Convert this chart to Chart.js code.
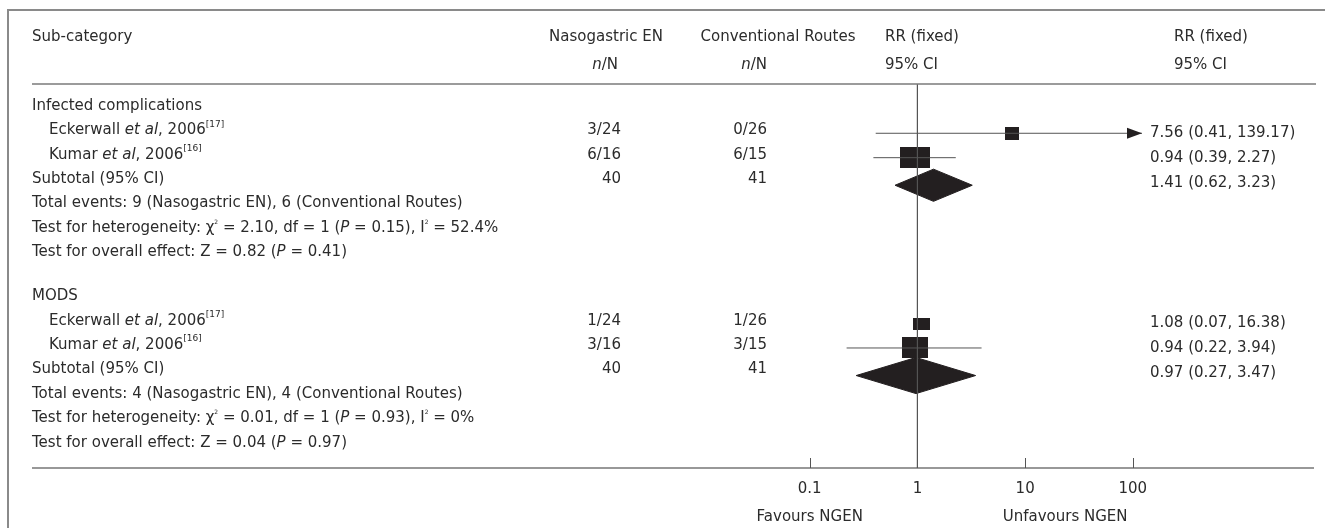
<!DOCTYPE html>
<html>
<head>
<meta charset="utf-8">
<script src="https://cdn.jsdelivr.net/npm/chart.js@4.4.1/dist/chart.umd.min.js"></script>
<style>
  html, body { margin: 0; padding: 0; background: #ffffff; }
  #wrap { width: 1325px; height: 528px; position: relative; }
</style>
</head>
<body>
<div id="wrap"><canvas id="forest" width="1325" height="528"></canvas></div>
<script>
// ---- data ----------------------------------------------------------
const groupNames = ['Infected complications', 'MODS'];
const studyGroup = [0, 0, 1, 1];
const studyNames = ['Eckerwall', 'Kumar', 'Eckerwall', 'Kumar'];
const studyYears = [2006, 2006, 2006, 2006];
const studyRefs = [17, 16, 17, 16];
const ngenEvents = [3, 6, 1, 3];
const ngenTotal = [24, 16, 24, 16];
const convEvents = [0, 6, 1, 3];
const convTotal = [26, 15, 26, 15];
const studyRR = [7.56, 0.94, 1.08, 0.94];
const studyLow = [0.41, 0.39, 0.07, 0.22];
const studyHigh = [139.17, 2.27, 16.38, 3.94];
const studyWhisker = [true, true, false, true];
const subtotalRR = [1.41, 0.97];
const subtotalLow = [0.62, 0.27];
const subtotalHigh = [3.23, 3.47];
const hetChi2 = ['2.10', '0.01'];
const hetDf = [1, 1];
const hetP = ['0.15', '0.93'];
const hetI2 = ['52.4%', '0%'];
const effectZ = ['0.82', '0.04'];
const effectP = ['0.41', '0.97'];
const axisTicks = [0.1, 1, 10, 100];
const axisLabels = ['Favours NGEN', 'Unfavours NGEN'];

// ---- styles & layout --------------------------------------------------
const FONT = '"DejaVu Sans", Verdana, sans-serif';
const FS = 15;
const TEXT = '#2b2b2b';
const INK = '#231f20';
const W = 1325, H = 528;
const X_MIN = 0.01, X_MAX = Math.pow(10, 2.085);
const Y_MIN = -0.9, Y_MAX = 14.84;
const boxSize = [[14, 13], [30, 21], [17, 12], [26, 21]];
const boxDrop = 0.12;       // marks sit slightly below the text line
const diamondDrop = 0.25;
const diamondHalf = [0.66, 0.74];
const COL = { left: 32, indent: 49, ngen: 621, conv: 767, ngenHead: 606, convHead: 778, rrHead: 885, res: 1150, resHead: 1174 };

// row positions (in row units) built from the group structure
const rows = [];
let r = 0;
groupNames.forEach((g, gi) => {
  rows.push({ kind: 'group', gi, y: r++ });
  studyGroup.forEach((sg, si) => { if (sg === gi) rows.push({ kind: 'study', si, y: r++ }); });
  rows.push({ kind: 'subtotal', gi, y: r++ });
  rows.push({ kind: 'events', gi, y: r++ });
  rows.push({ kind: 'het', gi, y: r++ });
  rows.push({ kind: 'effect', gi, y: r++ });
  r += 0.8;
});
const studyRow = si => rows.find(o => o.kind === 'study' && o.si === si).y;
const subtotalRow = gi => rows.find(o => o.kind === 'subtotal' && o.gi === gi).y;

// ---- datasets -------------------------------------------------------
function boxImage(w, h) {
  const c = document.createElement('canvas');
  c.width = w; c.height = h;
  const g = c.getContext('2d');
  g.fillStyle = INK; g.fillRect(0, 0, w, h);
  return c;
}

const datasets = [];
// line of no effect
datasets.push({
  data: [{ x: 1, y: Y_MIN }, { x: 1, y: Y_MAX }],
  showLine: true, borderColor: '#555555', borderWidth: 1, pointRadius: 0
});
// confidence intervals
studyRR.forEach((rr, si) => {
  if (!studyWhisker[si]) return;
  const y = studyRow(si) + boxDrop;
  datasets.push({
    data: [{ x: studyLow[si], y }, { x: Math.min(studyHigh[si], X_MAX), y }],
    showLine: true, borderColor: '#555555', borderWidth: 1, pointRadius: 0
  });
});
// study estimates
datasets.push({
  data: studyRR.map((rr, si) => ({ x: rr, y: studyRow(si) + boxDrop })),
  pointStyle: boxSize.map(([w, h]) => boxImage(w, h)),
  pointRadius: 8, borderWidth: 0
});
// pooled estimates: upper half filled down to the lower half
subtotalRR.forEach((rr, gi) => {
  const y = subtotalRow(gi) + diamondDrop;
  const h = diamondHalf[gi];
  datasets.push({
    data: [{ x: subtotalLow[gi], y }, { x: rr, y: y - h }, { x: subtotalHigh[gi], y }],
    showLine: true, fill: '+1', backgroundColor: INK, borderColor: INK,
    borderWidth: 1, pointRadius: 0, tension: 0
  });
  datasets.push({
    data: [{ x: subtotalLow[gi], y }, { x: rr, y: y + h }, { x: subtotalHigh[gi], y }],
    showLine: true, fill: false, backgroundColor: INK, borderColor: INK,
    borderWidth: 1, pointRadius: 0, tension: 0
  });
});

// ---- table text -------------------------------------------------------
function rich(ctx, parts, x, y, align) {
  const fontFor = s => (s === 'i' ? 'italic ' : '') +
    (s === 's' ? 9 : s === 't' ? 6 : FS) + 'px ' + FONT;
  let total = 0;
  parts.forEach(([t, s]) => { ctx.font = fontFor(s); total += ctx.measureText(t).width; });
  let cx = align === 'right' ? x - total : align === 'center' ? x - total / 2 : x;
  ctx.textAlign = 'left';
  ctx.textBaseline = 'middle';
  parts.forEach(([t, s]) => {
    ctx.font = fontFor(s);
    const dy = s === 's' ? -6 : s === 't' ? -6 : 0;
    ctx.fillText(t, cx, y + dy);
    cx += ctx.measureText(t).width;
  });
}
const fmt = v => v.toFixed(2);
const ciText = (rr, lo, hi) => fmt(rr) + ' (' + fmt(lo) + ', ' + fmt(hi) + ')';
const sumOf = (arr, gi) => arr.reduce((s, v, i) => s + (studyGroup[i] === gi ? v : 0), 0);

const tablePlugin = {
  id: 'forestTable',
  beforeDraw(chart) {
    const { ctx } = chart;
    ctx.save();
    ctx.fillStyle = '#ffffff';
    ctx.fillRect(0, 0, W, H);
    ctx.strokeStyle = '#8a8a8a';
    ctx.lineWidth = 2;
    ctx.beginPath();
    ctx.moveTo(8, H); ctx.lineTo(8, 10); ctx.lineTo(W, 10);
    ctx.stroke();
    ctx.restore();
  },
  afterDatasetsDraw(chart) {
    const { ctx, chartArea } = chart;
    const xs = chart.scales.x, ys = chart.scales.y;
    const py = v => ys.getPixelForValue(v);
    ctx.save();

    // header rule and bottom rule
    ctx.strokeStyle = '#7a7a7a';
    ctx.lineWidth = 1.5;
    ctx.beginPath();
    ctx.moveTo(COL.left, chartArea.top); ctx.lineTo(1316, chartArea.top);
    ctx.stroke();
    ctx.strokeStyle = '#333333';
    ctx.lineWidth = 1.2;
    ctx.beginPath();
    ctx.moveTo(COL.left, chartArea.bottom); ctx.lineTo(1314, chartArea.bottom);
    ctx.stroke();

    // axis tick marks, pointing up into the plot
    ctx.strokeStyle = '#555555';
    ctx.lineWidth = 1;
    xs.ticks.forEach(t => {
      const x = Math.round(xs.getPixelForValue(t.value)) + 0.5;
      ctx.beginPath();
      ctx.moveTo(x, chartArea.bottom - 10); ctx.lineTo(x, chartArea.bottom);
      ctx.stroke();
    });

    // arrow heads for intervals running past the axis
    ctx.fillStyle = INK;
    studyHigh.forEach((hi, si) => {
      if (hi <= X_MAX || !studyWhisker[si]) return;
      const x = xs.getPixelForValue(X_MAX), y = py(studyRow(si) + boxDrop);
      ctx.beginPath();
      ctx.moveTo(x, y); ctx.lineTo(x - 15, y - 5.5); ctx.lineTo(x - 15, y + 5.5);
      ctx.closePath(); ctx.fill();
    });

    // headers
    ctx.fillStyle = TEXT;
    const h1 = py(-2.83), h2 = py(-1.68);
    rich(ctx, [['Sub-category', 'n']], COL.left, h1, 'left');
    rich(ctx, [['Nasogastric EN', 'n']], COL.ngenHead, h1, 'center');
    rich(ctx, [['n', 'i'], ['/N', 'n']], COL.ngen - 3, h2, 'right');
    rich(ctx, [['Conventional Routes', 'n']], COL.convHead, h1, 'center');
    rich(ctx, [['n', 'i'], ['/N', 'n']], COL.conv, h2, 'right');
    rich(ctx, [['RR (fixed)', 'n']], COL.rrHead, h1, 'left');
    rich(ctx, [['95% CI', 'n']], COL.rrHead, h2, 'left');
    rich(ctx, [['RR (fixed)', 'n']], COL.resHead, h1, 'left');
    rich(ctx, [['95% CI', 'n']], COL.resHead, h2, 'left');

    // body rows
    rows.forEach(row => {
      const y = py(row.y);
      if (row.kind === 'group') {
        rich(ctx, [[groupNames[row.gi], 'n']], COL.left, y, 'left');
      } else if (row.kind === 'study') {
        const si = row.si;
        rich(ctx, [[studyNames[si] + ' ', 'n'], ['et al', 'i'], [', ' + studyYears[si], 'n'], ['[' + studyRefs[si] + ']', 's']], COL.indent, y, 'left');
        rich(ctx, [[ngenEvents[si] + '/' + ngenTotal[si], 'n']], COL.ngen, y, 'right');
        rich(ctx, [[convEvents[si] + '/' + convTotal[si], 'n']], COL.conv, y, 'right');
        rich(ctx, [[ciText(studyRR[si], studyLow[si], studyHigh[si]), 'n']], COL.res, py(row.y + boxDrop), 'left');
      } else if (row.kind === 'subtotal') {
        const gi = row.gi;
        rich(ctx, [['Subtotal (95% CI)', 'n']], COL.left, y, 'left');
        rich(ctx, [[String(sumOf(ngenTotal, gi)), 'n']], COL.ngen, y, 'right');
        rich(ctx, [[String(sumOf(convTotal, gi)), 'n']], COL.conv, y, 'right');
        rich(ctx, [[ciText(subtotalRR[gi], subtotalLow[gi], subtotalHigh[gi]), 'n']], COL.res, py(row.y + diamondDrop * 0.6), 'left');
      } else if (row.kind === 'events') {
        const gi = row.gi;
        rich(ctx, [['Total events: ' + sumOf(ngenEvents, gi) + ' (Nasogastric EN), ' + sumOf(convEvents, gi) + ' (Conventional Routes)', 'n']], COL.left, y, 'left');
      } else if (row.kind === 'het') {
        const gi = row.gi;
        rich(ctx, [['Test for heterogeneity: \u03c7', 'n'], ['2', 't'], [' = ' + hetChi2[gi] + ', df = ' + hetDf[gi] + ' (', 'n'], ['P', 'i'],
          [' = ' + hetP[gi] + '), I', 'n'], ['2', 't'], [' = ' + hetI2[gi], 'n']], COL.left, y, 'left');
      } else if (row.kind === 'effect') {
        const gi = row.gi;
        rich(ctx, [['Test for overall effect: Z = ' + effectZ[gi] + ' (', 'n'], ['P', 'i'], [' = ' + effectP[gi] + ')', 'n']], COL.left, y, 'left');
      }
    });

    // direction labels under the axis
    rich(ctx, [[axisLabels[0], 'n']], xs.getPixelForValue(0.1), 517, 'center');
    rich(ctx, [[axisLabels[1], 'n']], xs.getPixelForValue(10) + 40, 517, 'center');
    ctx.restore();
  }
};

// ---- chart --------------------------------------------------------------
new Chart(document.getElementById('forest').getContext('2d'), {
  type: 'scatter',
  data: { datasets },
  options: {
    responsive: false,
    animation: false,
    devicePixelRatio: 1,
    layout: { padding: { left: 702, right: W - 1142, top: 84, bottom: 20 } },
    plugins: { legend: { display: false }, tooltip: { enabled: false } },
    scales: {
      x: {
        type: 'logarithmic', position: 'bottom', min: X_MIN, max: X_MAX,
        grid: { display: false, drawTicks: false },
        border: { display: false },
        ticks: {
          color: TEXT, font: { family: FONT, size: FS }, padding: 12,
          autoSkip: false, maxRotation: 0,
          callback: v => String(v)
        },
        afterBuildTicks: s => { s.ticks = axisTicks.map(v => ({ value: v })); },
        afterFit: s => { s.height = 40; }
      },
      y: { type: 'linear', reverse: true, min: Y_MIN, max: Y_MAX, display: false }
    }
  },
  plugins: [tablePlugin]
});
</script>
</body>
</html>
